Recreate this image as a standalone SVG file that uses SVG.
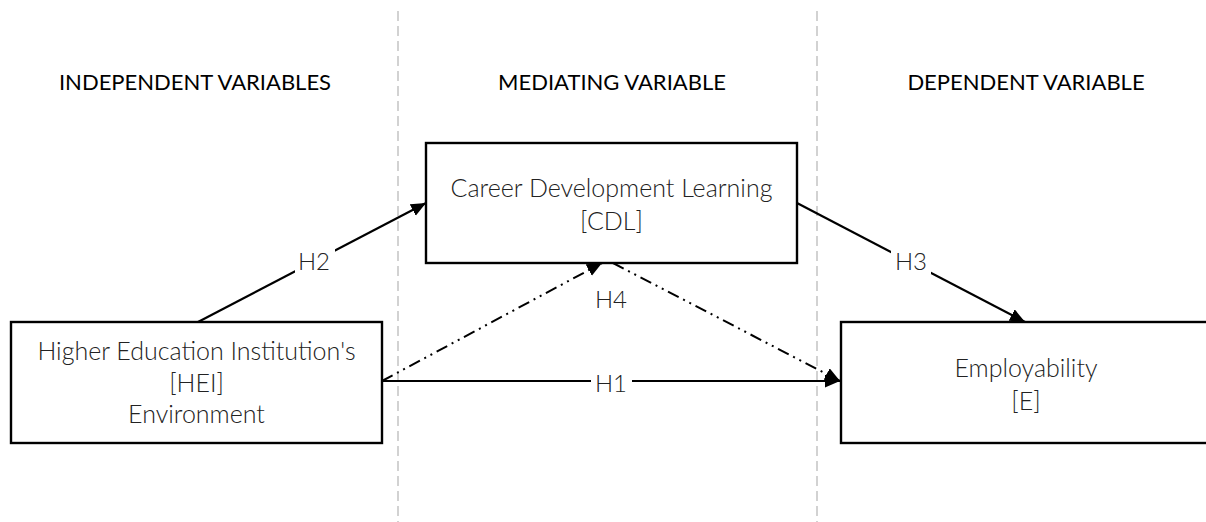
<svg xmlns="http://www.w3.org/2000/svg" width="1206" height="522" viewBox="0 0 1206 522">
<style>
.hdr{font-family:Lato,"Open Sans","Liberation Sans",sans-serif;font-size:22px;fill:#000;text-anchor:middle}
.nt{font-family:Lato,"Open Sans","Liberation Sans",sans-serif;font-weight:300;font-size:25px;fill:#222;text-anchor:middle}
.lb{font-family:Lato,"Open Sans","Liberation Sans",sans-serif;font-weight:300;font-size:24px;fill:#222;text-anchor:middle}
.box{fill:#fff;stroke:#000;stroke-width:2.4}
.div{stroke:#c3c3c3;stroke-width:1.5;stroke-dasharray:10 5;fill:none}
.ln{stroke:#000;stroke-width:2.2;fill:none}
.dd{stroke:#000;stroke-width:2;fill:none;stroke-dasharray:12 5 2 5 2 5}
.bg{fill:#fff}
</style>
<defs>
<marker id="ah" markerUnits="userSpaceOnUse" markerWidth="16" markerHeight="14" refX="15" refY="6.5" orient="auto">
<path d="M0,0 L15,6.5 L0,13 z" fill="#000"/>
</marker>
</defs>
<rect width="1206" height="522" fill="#fff"/>
<g id="dividers">
<line class="div" x1="398" y1="11" x2="398" y2="522"/>
<line class="div" x1="817" y1="11" x2="817" y2="522"/>
</g>
<g id="headers">
<text class="hdr" x="195" y="90">INDEPENDENT VARIABLES</text>
<text class="hdr" x="612" y="90">MEDIATING VARIABLE</text>
<text class="hdr" x="1026" y="90">DEPENDENT VARIABLE</text>
</g>
<g id="node-cdl">
<rect class="box" x="426" y="143" width="371" height="120"/>
<text class="nt" x="611.5" y="197">Career Development Learning</text>
<text class="nt" x="611.5" y="230">[CDL]</text>
</g>
<g id="node-hei">
<rect class="box" x="11" y="322" width="371" height="121"/>
<text class="nt" x="196.5" y="360">Higher Education Institution's</text>
<text class="nt" x="196.5" y="392">[HEI]</text>
<text class="nt" x="196.5" y="423">Environment</text>
</g>
<g id="node-e">
<rect class="box" x="841" y="322" width="372" height="121"/>
<text class="nt" x="1026" y="377">Employability</text>
<text class="nt" x="1026" y="410">[E]</text>
</g>
<g id="connectors">
<line class="ln" x1="198" y1="322" x2="426" y2="203" marker-end="url(#ah)"/>
<line class="ln" x1="797" y1="203" x2="1025" y2="322" marker-end="url(#ah)"/>
<line class="ln" x1="382" y1="381" x2="840" y2="381" marker-end="url(#ah)"/>
<line class="dd" x1="382" y1="381" x2="602" y2="263" marker-end="url(#ah)"/>
<line class="dd" x1="613" y1="263" x2="840" y2="381" marker-end="url(#ah)"/>
<rect class="bg" x="295" y="246" width="40" height="28"/>
<rect class="bg" x="891" y="246" width="40" height="28"/>
<rect class="bg" x="591" y="367" width="41" height="28"/>
<text class="lb" x="314" y="270">H2</text>
<text class="lb" x="911" y="270">H3</text>
<text class="lb" x="611" y="392">H1</text>
<text class="lb" x="611" y="308">H4</text>
</g>
</svg>
